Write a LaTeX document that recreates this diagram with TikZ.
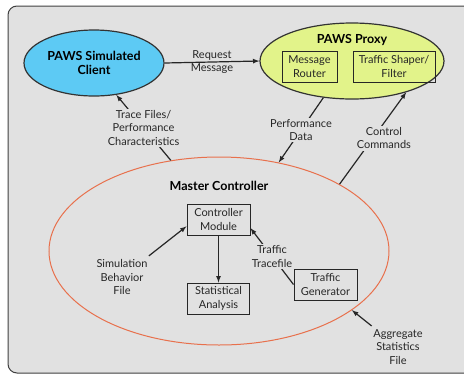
\documentclass[tikz,border=0pt]{standalone}
\usepackage{fontspec}
\setmainfont{Lato}
\usetikzlibrary{shapes.geometric}
\definecolor{bggray}{HTML}{E1E1E1}
\definecolor{clientblue}{HTML}{5DCAF4}
\definecolor{proxygreen}{HTML}{E2F38A}
\definecolor{masterred}{HTML}{E8704C}
\begin{document}
\begin{tikzpicture}[x=1pt,y=-1pt,
  every node/.style={font=\fontsize{11}{13.5}\selectfont,align=center,text=black!85},
  title/.style={font=\fontsize{12.5}{14}\selectfont\bfseries,text=black},
  blob/.style={ellipse,draw=black!80,line width=1.2pt,inner sep=0pt},
  box/.style={draw=black!85,line width=1pt,minimum height=31pt,inner sep=1pt},
  tag/.style={fill=bggray,inner sep=1.5pt},
  link/.style={-latex,line width=1.2pt,black!85}]
\clip (0,0) rectangle (464,376);
\draw[fill=bggray,draw=black!75,line width=1pt,rounded corners=9pt] (8,6) rectangle (490,373);

\node[blob,title,fill=clientblue,minimum width=140pt,minimum height=66pt] (client) at (94,63) {PAWS Simulated\\Client};
\node[blob,fill=proxygreen,minimum width=184pt,minimum height=76pt] (proxy) at (352,61) {};
\node[title] (proxytitle) at (352,40) {PAWS Proxy};
\node[box,minimum width=55pt] (router) at (309.5,66.5) {Message\\Router};
\node[box,minimum width=82pt] (shaper) at (394,66.5) {Traffic Shaper/\\Filter};

\node[blob,draw=masterred,line width=1pt,minimum width=340pt,minimum height=188pt] (master) at (219,251) {};
\node[title] (mastertitle) at (219,186) {Master Controller};
\node[box,minimum width=63pt] (ctrl) at (218.5,219.5) {Controller\\Module};
\node[box,minimum width=62pt] (stat) at (218.5,298.5) {Statistical\\Analysis};
\node[box,minimum width=63pt] (gen) at (325.5,284.5) {Traffic\\Generator};

\node (simfile) at (122,277) {Simulation\\Behavior\\File};
\node (aggfile) at (398,347) {Aggregate\\Statistics\\File};

\draw[link] (client.east) -- node{Request\\Message} (proxy.west);
\draw[link] (master.118) -- node[tag]{Trace Files/\\Performance\\Characteristics} (client.-55);
\draw[link] (proxy.-128) -- node[tag]{Performance\\Data} (master.56);
\draw[link] (master.29) -- node[tag,xshift=11pt]{Control\\Commands} (proxy.-30);
\draw[link] (ctrl) -- (stat);
\draw[link] (simfile) -- (ctrl.192);
\draw[link] (gen.west) -- node[tag]{Traffic\\Tracefile} (ctrl.-15);
\draw[link] (aggfile) -- (master.-24);
\end{tikzpicture}
\end{document}
